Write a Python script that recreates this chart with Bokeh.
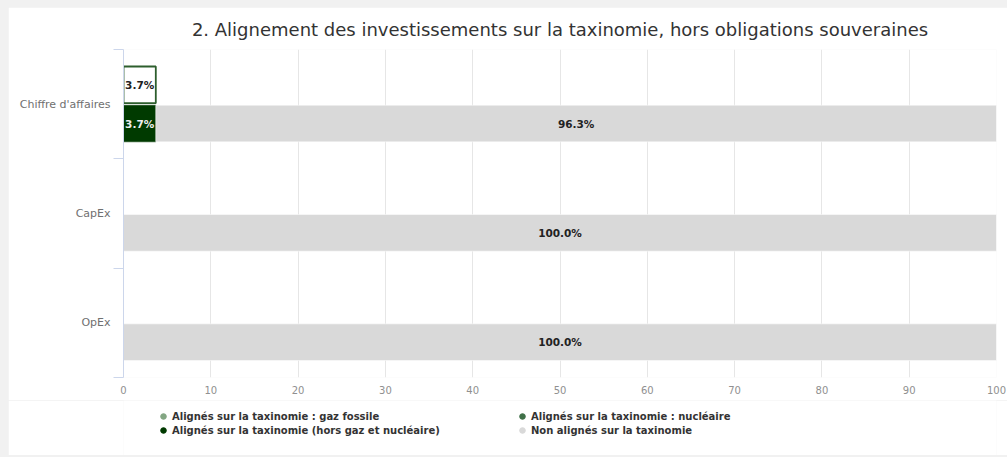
from bokeh.plotting import figure
from bokeh.layouts import column
from bokeh.models import (Range1d, LinearAxis, FixedTicker, ColumnDataSource,
                          Legend, LegendItem, GlobalInlineStyleSheet, Title)
from bokeh.core.properties import value
from bokeh.embed import file_html
from bokeh.resources import INLINE

# ---- data ----
categories = ["Chiffre d'affaires", "CapEx", "OpEx"]
total_aligned = [3.7, 0.0, 0.0]          # upper bar (outlined)
gaz_fossile = [0.0, 0.0, 0.0]
nucleaire = [0.0, 0.0, 0.0]
hors_gaz_nucleaire = [3.7, 0.0, 0.0]
non_alignes = [96.3, 100.0, 100.0]
x_ticks = [0, 10, 20, 30, 40, 50, 60, 70, 80, 90, 100]

series_names = ["Alignés sur la taxinomie : gaz fossile",
                "Alignés sur la taxinomie : nucléaire",
                "Alignés sur la taxinomie (hors gaz et nucléaire)",
                "Non alignés sur la taxinomie"]
series_colors = ["#83a683", "#3f7048", "#003a00", "#d9d9d9"]
label_colors = ["#222222", "#eeeeee", "#eeeeee", "#222222"]

TITLE = "2. Alignement des investissements sur la taxinomie, hors obligations souveraines"

n = len(categories)
ypos = [n - i - 0.5 for i in range(n)]   # band centres, first category on top
OFF = 0.177
H = 0.335
y_top = [y + OFF for y in ypos]
y_bot = [y - OFF for y in ypos]

p = figure(width=999, height=393, output_backend="svg", toolbar_location=None,
           y_range=Range1d(0, n), x_range=Range1d(0, 100),
           min_border_left=115, min_border_right=11, min_border_top=41, min_border_bottom=23,
           y_axis_location=None, x_axis_location=None)
p.outline_line_color = None
p.background_fill_color = "white"
p.border_fill_color = "white"
p.stylesheets = [GlobalInlineStyleSheet(
    css="html, body { background: #f1f1f1; margin: 0; } body { padding: 7px 0 0 8px; box-sizing: border-box; }")]

t = Title(text=TITLE, align="center", text_font="DejaVu Sans", text_font_size="18px",
          text_color="#333333", text_font_style="normal", text_line_height=1.0, standoff=19)
p.add_layout(t, "above")

# category axis: labels at band centres, ticks (minor) at band boundaries
cat_axis = LinearAxis(ticker=FixedTicker(ticks=ypos, minor_ticks=list(range(n + 1))),
                      major_label_overrides={y: c for y, c in zip(ypos, categories)},
                      axis_line_color="#ccd6eb", major_tick_line_color=None,
                      major_tick_out=10, major_tick_in=0,
                      minor_tick_line_color="#ccd6eb", minor_tick_out=10, minor_tick_in=0,
                      major_label_text_font="DejaVu Sans",
                      major_label_text_font_size="11px",
                      major_label_text_color="#707070", major_label_standoff=3)
p.add_layout(cat_axis, "left")

x_axis = LinearAxis(ticker=FixedTicker(ticks=x_ticks), axis_line_color=None,
                    major_tick_line_color=None, minor_tick_line_color=None,
                    major_label_text_font="DejaVu Sans", major_label_text_font_size="10px",
                    major_label_text_color="#909090", major_label_standoff=2)
p.add_layout(x_axis, "below")

p.xgrid.ticker = FixedTicker(ticks=x_ticks)
p.xgrid.grid_line_color = "#e6e6e6"
p.ygrid.grid_line_color = None

# upper bar (only non-zero values are drawn)
keep = [i for i, v in enumerate(total_aligned) if v > 0]
src_top = ColumnDataSource(dict(y=[y_top[i] for i in keep], val=[total_aligned[i] for i in keep],
                                x=[total_aligned[i] / 2 for i in keep],
                                t=[f"{total_aligned[i]:.1f}%" for i in keep]))
p.hbar(y="y", left=0, right="val", height=H, source=src_top,
       fill_color="white", line_color="#2d5e2d", line_width=1.8)

# lower stacked bar
stack_data = [gaz_fossile, nucleaire, hors_gaz_nucleaire, non_alignes]
cum = [0.0] * n
lab_x, lab_y, lab_t, lab_c = [], [], [], []
for vals, col, lc in zip(stack_data, series_colors, label_colors):
    lefts = list(cum)
    rights = [a + b for a, b in zip(cum, vals)]
    idx = [i for i, v in enumerate(vals) if v > 0]
    src = ColumnDataSource(dict(y=[y_bot[i] for i in idx], left=[lefts[i] for i in idx],
                                right=[rights[i] for i in idx]))
    p.hbar(y="y", left="left", right="right", height=H, source=src, fill_color=col,
           line_color="white" if col == "#d9d9d9" else col, line_width=0.5)
    for i in idx:
        lab_x.append(lefts[i] + vals[i] / 2); lab_y.append(y_bot[i])
        lab_t.append(f"{vals[i]:.1f}%"); lab_c.append(lc)
    cum = rights

p.text(x="x", y="y", text="t", source=src_top,
       text_font=value("DejaVu Sans"), text_font_size="10.5px", text_font_style="bold",
       text_color="#222222", text_align="center", text_baseline="middle")

bot_lab = ColumnDataSource(dict(x=lab_x, y=lab_y, t=lab_t, c=lab_c))
p.text(x="x", y="y", text="t", source=bot_lab,
       text_font=value("DejaVu Sans"), text_font_size="10.5px", text_font_style="bold",
       text_color="c", text_align="center", text_baseline="middle")

# ---- legend strip ----
lf = figure(width=999, height=55, output_backend="svg", toolbar_location=None,
            min_border=0, x_axis_location=None, y_axis_location=None,
            x_range=Range1d(0, 1), y_range=Range1d(0, 1))
lf.outline_line_color = None
lf.grid.visible = False
lf.border_fill_color = "white"
lf.background_fill_color = "white"

nan = float("nan")
leg_r = []
for col in series_colors:
    leg_r.append(lf.scatter(x=[nan], y=[nan], marker="circle", size=11,
                            fill_color=col, line_color=col))

def make_legend(idx, loc):
    return Legend(items=[LegendItem(label=series_names[i], renderers=[leg_r[i]]) for i in idx],
                  location=loc, orientation="vertical", padding=0, margin=0, spacing=0,
                  label_text_font="DejaVu Sans", label_text_font_size="10px",
                  label_text_font_style="bold", label_text_color="#333333",
                  label_height=14, glyph_height=14, glyph_width=14, label_standoff=2,
                  border_line_color=None, background_fill_alpha=0)

lf.add_layout(make_legend([0, 2], (33, 18)), "center")
lf.add_layout(make_legend([1, 3], (392, 18)), "center")

layout = column(p, lf, spacing=0)
open("out.html", "w").write(file_html(layout, INLINE))
